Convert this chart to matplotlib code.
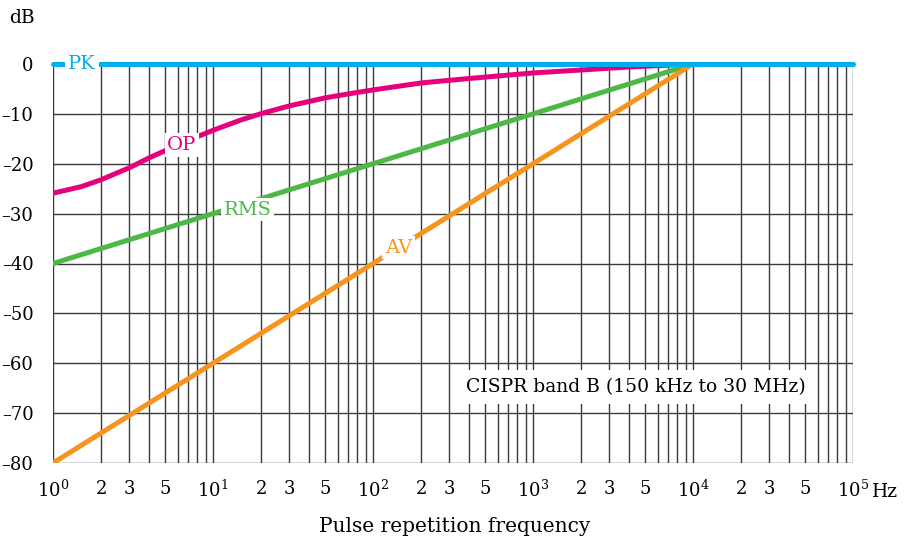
import numpy as np
import matplotlib
matplotlib.use("Agg")
import matplotlib.pyplot as plt
import matplotlib.ticker as mticker

# data
freq_pk = [1, 1e4, 1e5]
level_pk = [0, 0, 0]

freq_op = [1, 1.5, 2, 3, 4, 5, 7, 10, 15, 20, 30, 50, 70, 100, 200, 400, 1000, 2000, 4000, 10000]
level_op = [-25.9, -24.6, -23.2, -20.8, -18.8, -17.4, -15.3, -13.3, -11.2, -9.95, -8.4, -6.8,
            -6.0, -5.2, -3.8, -2.9, -1.8, -1.2, -0.6, 0]

freq_rms = [1, 10000]
level_rms = [-40, 0]

freq_av = [1, 10000]
level_av = [-80, 0]

decades = [1, 10, 100, 1000, 10000, 100000]
decade_labels = ["$10^0$", "$10^1$", "$10^2$", "$10^3$", "$10^4$", "$10^5$"]
y_ticks = [0, -10, -20, -30, -40, -50, -60, -70, -80]

c_pk = "#00AEEF"
c_op = "#E6007E"
c_rms = "#4DB848"
c_av = "#F7941D"
grid_c = "#3a3a3a"

plt.rcParams["font.family"] = ["DejaVu Serif"]
plt.rcParams["mathtext.fontset"] = "dejavuserif"

fig = plt.figure(figsize=(9.11, 5.46), dpi=100)
ax = fig.add_axes([53 / 911, 1 - 463 / 546, 800 / 911, 399 / 546])

ax.set_xscale("log")
ax.set_xlim(1, 1e5)
ax.set_ylim(-80, 0)

# grid lines: every 1..9 per decade, every 10 dB
for d in decades[:-1]:
    for m in range(1, 10):
        ax.axvline(d * m, color=grid_c, lw=1, zorder=1)
ax.axvline(1e5, color=grid_c, lw=1, zorder=1)
for v in y_ticks:
    ax.axhline(v, color=grid_c, lw=1, zorder=1)
for s in ax.spines.values():
    s.set_visible(False)

ax.set_yticks(y_ticks)
ax.set_yticklabels(["0" if v == 0 else "\u2013" + str(-v) for v in y_ticks])

# tick labels: decades + 2,3,5
labels_pos = []
labels_txt = []
for i, d in enumerate(decades):
    labels_pos.append(d)
    labels_txt.append(decade_labels[i])
    if d < 1e5:
        for m in (2, 3, 5):
            labels_pos.append(d * m)
            labels_txt.append(str(m))
ax.xaxis.set_major_locator(mticker.FixedLocator(labels_pos))
ax.xaxis.set_minor_locator(mticker.NullLocator())
ax.set_xticklabels(labels_txt)
ax.tick_params(axis="x", which="both", length=0, pad=12, labelsize=13)
ax.tick_params(axis="y", which="both", length=0, pad=14, labelsize=13)

# curves
lw = 3.6
ax.plot(freq_pk, level_pk, color=c_pk, lw=lw, solid_capstyle="round", clip_on=False, zorder=5)
ax.plot(freq_op, level_op, color=c_op, lw=lw, solid_capstyle="round", zorder=4)
ax.plot(freq_rms, level_rms, color=c_rms, lw=lw, solid_capstyle="round", zorder=4)
ax.plot(freq_av, level_av, color=c_av, lw=lw, solid_capstyle="round", zorder=4)

box = dict(facecolor="white", edgecolor="none", pad=2)
ax.text(1.52, 0, "PK", color=c_pk, fontsize=14, ha="center", va="center", bbox=box, zorder=6)
ax.text(6.4, -16.2, "OP", color=c_op, fontsize=14, ha="center", va="center", bbox=box, zorder=6)
ax.text(16.4, -29.2, "RMS", color=c_rms, fontsize=14, ha="center", va="center", bbox=box, zorder=6)
ax.text(145, -36.8, "AV", color=c_av, fontsize=14, ha="center", va="center", bbox=box, zorder=6)

ax.text(4400, -64.8, "CISPR band B (150 kHz to 30 MHz)", fontsize=13.5, ha="center", va="center",
        bbox=dict(facecolor="white", edgecolor="none", pad=6), zorder=6)

fig.text(22 / 911, 1 - 18 / 546, "dB", fontsize=13.5, ha="center", va="center")
fig.text(885 / 911, 1 - 492 / 546, "Hz", fontsize=13.5, ha="center", va="center")
fig.text(455 / 911, 1 - 527 / 546, "Pulse repetition frequency", fontsize=14.5, ha="center", va="center")

fig.savefig("out.png", dpi=100)
